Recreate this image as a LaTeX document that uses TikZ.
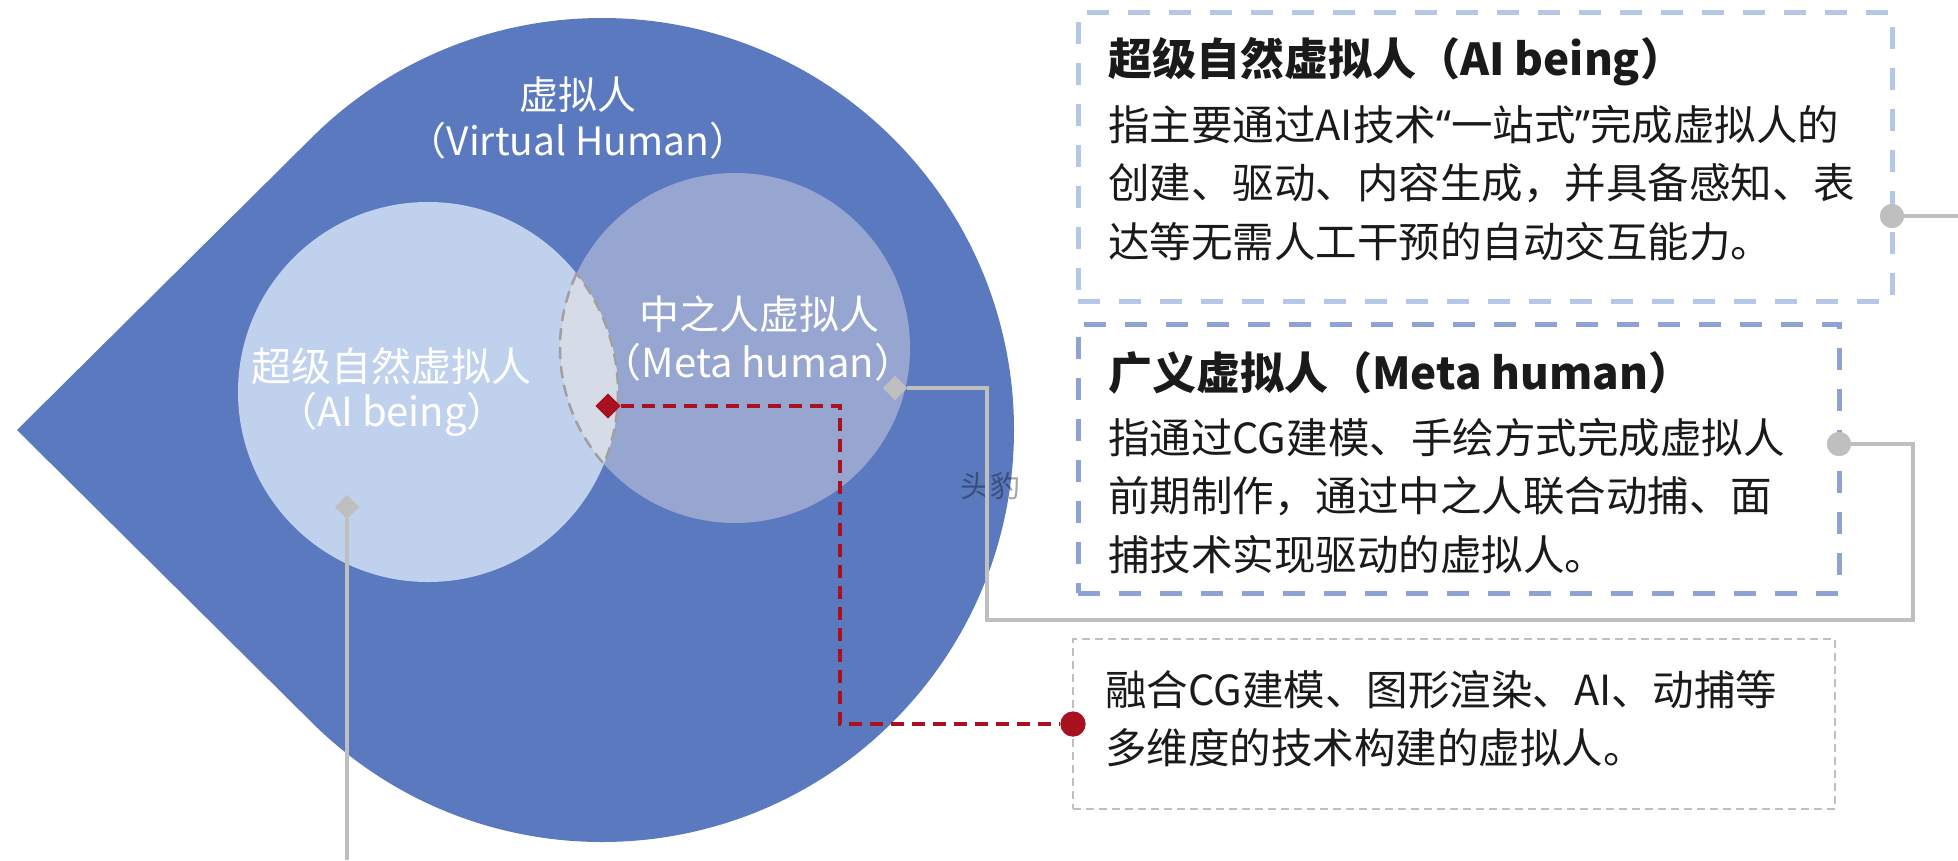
\documentclass[tikz,border=0pt]{standalone}
\usepackage{fontspec}
\setmainfont{Noto Sans CJK SC}
\newfontfamily\latinq{Noto Sans}
\usetikzlibrary{shapes.geometric}
\definecolor{tdblue}{RGB}{91,121,190}
\definecolor{aicirc}{RGB}{192,209,238}
\definecolor{metacirc}{RGB}{151,166,208}
\definecolor{lensfill}{RGB}{213,220,232}
\definecolor{lensline}{RGB}{160,160,160}
\definecolor{boxa}{RGB}{180,199,231}
\definecolor{boxb}{RGB}{143,162,212}
\definecolor{lgrey}{RGB}{191,191,191}
\definecolor{dred}{RGB}{168,17,31}
\definecolor{txt}{RGB}{26,26,26}
\begin{document}
\begin{tikzpicture}[x=1pt,y=-1pt,
  clabel/.style={text=white,inner sep=0pt,anchor=center,font=\fontsize{40}{48}\selectfont},
  toplabel/.style={text=white,inner sep=0pt,anchor=center,font=\fontsize{39}{47}\selectfont},
  btitle/.style={text=txt,inner sep=0pt,anchor=west,font=\fontsize{44}{52}\selectfont\bfseries},
  bbody/.style={text=txt,inner sep=0pt,anchor=north west,align=left,font=\fontsize{41.5}{58.5}\selectfont},
  boxone/.style={draw=boxa,line width=5pt,dash pattern=on 22pt off 19pt,rectangle,inner sep=0pt},
  boxtwo/.style={draw=boxb,line width=5pt,dash pattern=on 22pt off 19pt,rectangle,inner sep=0pt},
  boxthree/.style={draw=lgrey,line width=1.8pt,dash pattern=on 8pt off 5pt,rectangle,inner sep=0pt},
  gline/.style={draw=lgrey,line width=3.3pt},
  rdash/.style={draw=dred,line width=3.3pt,dash pattern=on 13pt off 8pt},
  gdia/.style={diamond,fill=lgrey,minimum width=24pt,minimum height=24pt,inner sep=0pt},
  rdia/.style={diamond,fill=dred,minimum width=25pt,minimum height=25pt,inner sep=0pt},
  gdot/.style={circle,fill=lgrey,minimum size=24pt,inner sep=0pt},
  rdot/.style={circle,fill=dred,minimum size=25pt,inner sep=0pt}]
\useasboundingbox (0,0) rectangle (1958,860);
\fill[white] (0,0) rectangle (1958,860);
% teardrop
\fill[tdblue] (17,430) -- (310.67,138.67) arc[start angle=225,end angle=495,radius=412] -- cycle;
% circles
\fill[aicirc] (428,392) circle[radius=190];
\fill[metacirc] (735,348) circle[radius=175];
% lens
\path[fill=lensfill,draw=lensline,line width=2.5pt,dash pattern=on 12pt off 7pt]
  (576.60,273.61) arc[start angle=205.16,end angle=138.53,radius=175]
  arc[start angle=22.23,end angle=-38.55,radius=190] -- cycle;
% labels
\node[toplabel] (vh1) at (578,95) {虚拟人};
\node[toplabel] (vh2) at (578,141) {（Virtual Human）};
\node[clabel] (ai1) at (391,366) {超级自然虚拟人};
\node[clabel] (ai2) at (392,414) {（AI being）};
\node[clabel] (mh1) at (759,314) {中之人虚拟人};
\node[clabel] (mh2) at (758,362) {（Meta human）};
\node[inner sep=0pt,text=black,text opacity=0.35,font=\fontsize{30}{36}\selectfont] (wm) at (990,486) {头豹};
% boxes
\node[boxone,minimum width=814pt,minimum height=289pt] (b1) at (1485,156.5) {};
\node[boxtwo,minimum width=761pt,minimum height=269pt] (b2) at (1458.5,458.5) {};
\node[boxthree,minimum width=762pt,minimum height=170pt] (b3) at (1454,724) {};
\node[btitle] (b1t) at (1108,62) {超级自然虚拟人（AI being）};
\node[bbody] (b1b) at (1108,105) {指主要通过AI技术{\latinq “}一站式{\latinq ”}完成虚拟人的\\创建、驱动、内容生成，并具备感知、表\\达等无需人工干预的自动交互能力。};
\node[btitle] (b2t) at (1108,373) {广义虚拟人（Meta human）};
\node[bbody] (b2b) at (1108,418) {指通过CG建模、手绘方式完成虚拟人\\前期制作，通过中之人联合动捕、面\\捕技术实现驱动的虚拟人。};
\node[bbody] (b3b) at (1105,670) {融合CG建模、图形渲染、AI、动捕等\\多维度的技术构建的虚拟人。};
% markers
\node[gdia] (aidia) at (347,507) {};
\node[gdia] (mdia) at (895,388) {};
\node[rdia] (rdia) at (608,406) {};
\node[gdot] (b1dot) at (1892,216) {};
\node[gdot] (b2dot) at (1839,444) {};
\node[rdot] (rdot) at (1073,724) {};
\coordinate (aiend) at (347,860);
\coordinate (b1end) at (1958,216);
\coordinate (mr) at (1913,620);
\coordinate (ml) at (987,620);
\coordinate (rc) at (840,724);
% connectors
\draw[gline] (aidia) -- (aiend);
\draw[gline] (b1dot) -- (b1end);
\draw[gline] (b2dot) -| (mr) -- (ml) |- (mdia);
\draw[rdash] (rdia) -| (rc) -- (rdot);
% redraw markers on top
\node[gdia] at (aidia) {};
\node[gdia] at (mdia) {};
\node[rdia] at (rdia) {};
\node[gdot] at (b1dot) {};
\node[gdot] at (b2dot) {};
\node[rdot] at (rdot) {};
\end{tikzpicture}
\end{document}
